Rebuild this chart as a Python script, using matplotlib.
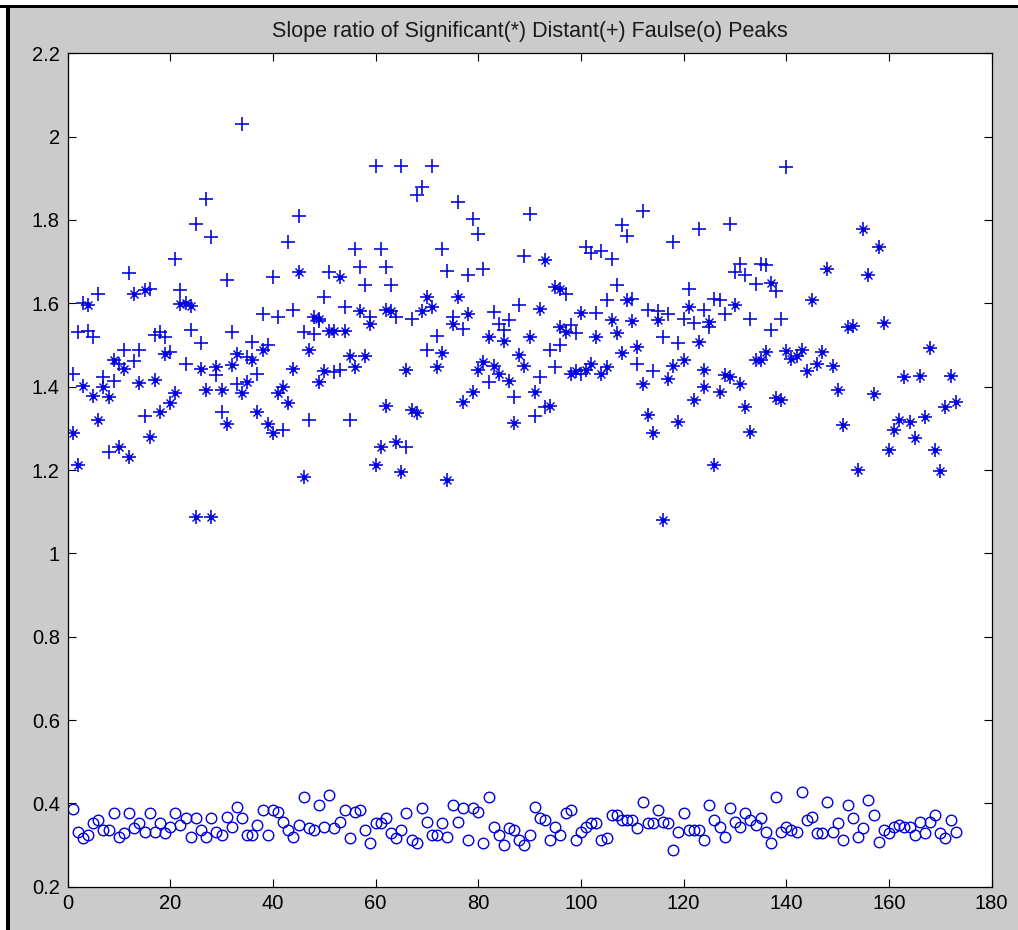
import matplotlib
matplotlib.use("Agg")
import matplotlib.pyplot as plt
from matplotlib.patches import Rectangle

plt.rcParams['font.family'] = ['Liberation Sans', 'DejaVu Sans']

# Significant peaks (*): peak index and slope ratio
sig_x = [1, 2, 3, 4, 5, 6, 7, 8, 9, 10, 11, 12, 13, 14, 15, 16, 17, 18, 19, 20,
         21, 22, 23, 24, 25, 26, 27, 28, 29, 30, 31, 32, 33, 34, 35, 36, 37, 38, 39, 40,
         41, 42, 43, 44, 45, 46, 47, 48, 49, 49, 50, 51, 52, 53, 54, 55, 56, 57, 58, 59,
         60, 61, 62, 62, 63, 64, 65, 66, 67, 68, 69, 70, 71, 72, 73, 74, 75, 76, 77, 78,
         79, 80, 81, 82, 83, 84, 85, 86, 87, 88, 89, 90, 91, 92, 93, 94, 95, 96, 96, 97,
         98, 99, 100, 101, 102, 103, 104, 105, 106, 107, 108, 109, 110, 111, 112, 113, 114, 115, 116, 117,
         118, 119, 120, 121, 122, 123, 124, 124, 125, 126, 127, 128, 129, 130, 131, 132, 133, 134, 135, 136,
         137, 138, 139, 140, 141, 142, 143, 144, 145, 146, 147, 148, 149, 150, 151, 152, 153, 154, 155, 156,
         157, 158, 159, 160, 161, 162, 163, 164, 165, 166, 167, 168, 169, 170, 171, 172, 173]
sig_y = [1.288, 1.212, 1.401, 1.595, 1.377, 1.320, 1.400, 1.374, 1.465, 1.254,
         1.443, 1.232, 1.623, 1.409, 1.631, 1.280, 1.417, 1.340, 1.479, 1.360,
         1.385, 1.598, 1.600, 1.593, 1.088, 1.443, 1.393, 1.088, 1.446, 1.393,
         1.310, 1.451, 1.479, 1.384, 1.411, 1.465, 1.340, 1.487, 1.310, 1.288,
         1.385, 1.400, 1.360, 1.443, 1.675, 1.184, 1.489, 1.567, 1.563, 1.411,
         1.438, 1.533, 1.533, 1.663, 1.533, 1.473, 1.447, 1.581, 1.473, 1.551,
         1.212, 1.256, 1.583, 1.353, 1.581, 1.268, 1.196, 1.441, 1.344, 1.336,
         1.581, 1.615, 1.591, 1.446, 1.481, 1.175, 1.551, 1.615, 1.364, 1.575,
         1.388, 1.439, 1.459, 1.518, 1.449, 1.430, 1.510, 1.414, 1.312, 1.475,
         1.449, 1.518, 1.388, 1.587, 1.703, 1.353, 1.640, 1.635, 1.543, 1.531,
         1.430, 1.438, 1.577, 1.441, 1.455, 1.518, 1.431, 1.446, 1.559, 1.529,
         1.481, 1.607, 1.557, 1.494, 1.407, 1.332, 1.288, 1.561, 1.081, 1.419,
         1.449, 1.316, 1.465, 1.591, 1.369, 1.507, 1.439, 1.400, 1.555, 1.212,
         1.388, 1.427, 1.422, 1.597, 1.407, 1.350, 1.292, 1.463, 1.463, 1.483,
         1.648, 1.372, 1.368, 1.486, 1.467, 1.473, 1.487, 1.438, 1.608, 1.454,
         1.483, 1.683, 1.449, 1.393, 1.308, 1.543, 1.545, 1.199, 1.778, 1.667,
         1.382, 1.734, 1.553, 1.248, 1.296, 1.321, 1.422, 1.316, 1.276, 1.425,
         1.326, 1.493, 1.248, 1.197, 1.350, 1.425, 1.364]

# Distant peaks (+): slope ratio for peaks 1..140
dist_y = [1.431, 1.531, 1.600, 1.533, 1.518, 1.622, 1.423, 1.244, 1.414, 1.455,
          1.489, 1.672, 1.462, 1.487, 1.329, 1.635, 1.523, 1.531, 1.519, 1.482,
          1.707, 1.632, 1.455, 1.535, 1.790, 1.505, 1.850, 1.758, 1.427, 1.340,
          1.655, 1.531, 1.407, 2.030, 1.470, 1.507, 1.430, 1.575, 1.500, 1.663,
          1.568, 1.296, 1.746, 1.585, 1.810, 1.531, 1.320, 1.527, 1.557, 1.615,
          1.675, 1.436, 1.440, 1.590, 1.320, 1.730, 1.687, 1.643, 1.567, 1.930,
          1.730, 1.687, 1.643, 1.567, 1.930, 1.256, 1.563, 1.860, 1.878, 1.487,
          1.930, 1.521, 1.730, 1.677, 1.568, 1.842, 1.539, 1.667, 1.802, 1.766,
          1.683, 1.411, 1.579, 1.551, 1.535, 1.560, 1.376, 1.595, 1.714, 1.814,
          1.329, 1.422, 1.350, 1.489, 1.447, 1.500, 1.623, 1.549, 1.529, 1.431,
          1.734, 1.720, 1.577, 1.725, 1.607, 1.707, 1.643, 1.789, 1.762, 1.611,
          1.455, 1.822, 1.585, 1.438, 1.581, 1.518, 1.575, 1.746, 1.505, 1.563,
          1.635, 1.553, 1.778, 1.584, 1.543, 1.610, 1.608, 1.575, 1.790, 1.675,
          1.695, 1.669, 1.563, 1.647, 1.695, 1.691, 1.537, 1.629, 1.563, 1.926]
dist_x = list(range(1, len(dist_y) + 1))

# False peaks (o): slope ratio for peaks 1..173
false_y = [0.386, 0.332, 0.316, 0.324, 0.352, 0.360, 0.336, 0.336, 0.376, 0.320,
           0.328, 0.376, 0.340, 0.352, 0.332, 0.376, 0.332, 0.352, 0.328, 0.344,
           0.376, 0.348, 0.364, 0.320, 0.364, 0.336, 0.320, 0.364, 0.332, 0.324,
           0.368, 0.344, 0.392, 0.364, 0.324, 0.324, 0.348, 0.384, 0.324, 0.384,
           0.380, 0.356, 0.336, 0.320, 0.348, 0.416, 0.340, 0.336, 0.396, 0.344,
           0.420, 0.340, 0.356, 0.384, 0.316, 0.380, 0.384, 0.336, 0.304, 0.352,
           0.352, 0.364, 0.328, 0.316, 0.336, 0.376, 0.312, 0.304, 0.388, 0.356,
           0.324, 0.324, 0.352, 0.320, 0.396, 0.356, 0.388, 0.312, 0.388, 0.380,
           0.304, 0.416, 0.344, 0.324, 0.300, 0.340, 0.336, 0.312, 0.300, 0.324,
           0.392, 0.364, 0.360, 0.312, 0.344, 0.324, 0.376, 0.384, 0.312, 0.332,
           0.344, 0.352, 0.352, 0.312, 0.316, 0.372, 0.372, 0.360, 0.360, 0.360,
           0.340, 0.404, 0.352, 0.352, 0.384, 0.356, 0.352, 0.288, 0.332, 0.376,
           0.336, 0.336, 0.336, 0.312, 0.396, 0.360, 0.344, 0.320, 0.388, 0.356,
           0.344, 0.376, 0.360, 0.348, 0.364, 0.332, 0.304, 0.416, 0.332, 0.344,
           0.336, 0.332, 0.428, 0.360, 0.368, 0.328, 0.328, 0.404, 0.332, 0.352,
           0.312, 0.396, 0.364, 0.320, 0.340, 0.408, 0.372, 0.308, 0.336, 0.328,
           0.344, 0.348, 0.344, 0.344, 0.324, 0.356, 0.328, 0.356, 0.372, 0.328,
           0.316, 0.360, 0.332]
false_x = list(range(1, len(false_y) + 1))

x_ticks = [0, 20, 40, 60, 80, 100, 120, 140, 160, 180]
y_ticks = [0.2, 0.4, 0.6, 0.8, 1.0, 1.2, 1.4, 1.6, 1.8, 2.0, 2.2]
y_tick_labels = ['0.2', '0.4', '0.6', '0.8', '1', '1.2', '1.4', '1.6', '1.8', '2', '2.2']
title = 'Slope ratio of Significant(*) Distant(+) Faulse(o) Peaks'

W, H = 1018, 930
fig = plt.figure(figsize=(W / 100, H / 100), dpi=100)
fig.patch.set_facecolor('#cbcbcb')

# window edge: thin white margin and a dark frame line on top and left
def px_rect(x, y, w, h, color):
    fig.add_artist(Rectangle((x / W, 1 - (y + h) / H), w / W, h / H,
                             transform=fig.transFigure, facecolor=color,
                             edgecolor='none', zorder=0))

px_rect(0, 0, W, 5, 'white')
px_rect(0, 0, 6, H, 'white')
px_rect(0, 5, W, 3.5, 'black')
px_rect(6, 5, 4, H - 5, 'black')

ax = fig.add_axes([67.5 / W, 1 - 886.7 / H, (991.7 - 67.5) / W, (886.7 - 53.3) / H])
ax.set_facecolor('white')

blue = '#0000e0'
ax.plot(dist_x, dist_y, linestyle='none', marker='+', markersize=10,
        markeredgewidth=1.15, color=blue)
# asterisk: upright cross with short diagonals and a dense centre
ax.plot(sig_x, sig_y, linestyle='none', marker='+', markersize=10,
        markeredgewidth=1.15, color=blue)
ax.plot(sig_x, sig_y, linestyle='none', marker='x', markersize=5.5,
        markeredgewidth=1.0, color=blue)
ax.plot(sig_x, sig_y, linestyle='none', marker='o', markersize=3.5,
        markeredgewidth=0, color=blue)
ax.plot(false_x, false_y, linestyle='none', marker='o', markersize=7.6,
        markeredgewidth=1.0, markerfacecolor='none', color=blue)

ax.set_xlim(0, 180)
ax.set_ylim(0.2, 2.2)
ax.set_xticks(x_ticks)
ax.set_xticklabels([str(t) for t in x_ticks])
ax.set_yticks(y_ticks)
ax.set_yticklabels(y_tick_labels)
ax.tick_params(direction='in', length=5.8, width=0.8, labelsize=14.5,
               top=True, right=True, pad=5.5, colors='black')
for s in ax.spines.values():
    s.set_linewidth(0.9)
    s.set_color('black')
ax.set_title(title, fontsize=15.5, pad=11.5, color='#1a1a1a')

fig.savefig('out.png', dpi=100, facecolor=fig.get_facecolor())
